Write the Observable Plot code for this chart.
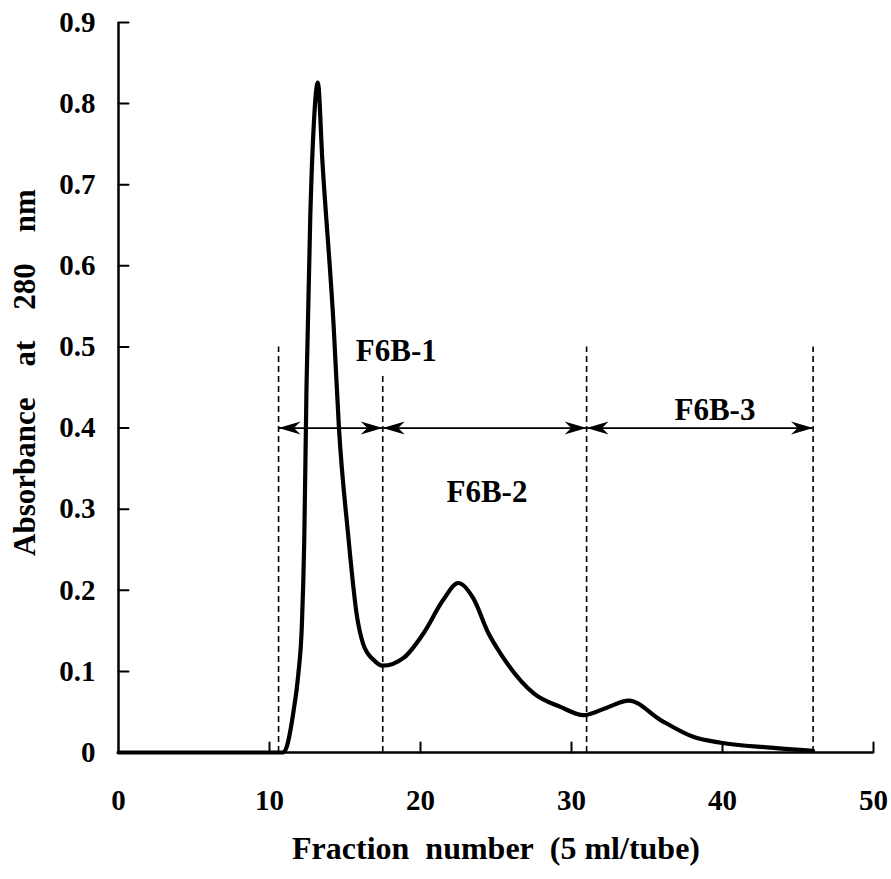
<!DOCTYPE html>
<html><head><meta charset="utf-8">
<script src="https://cdn.jsdelivr.net/npm/d3@7"></script>
<script src="https://cdn.jsdelivr.net/npm/@observablehq/plot@0.6"></script>
<style>body{margin:0;background:#fff}</style>
</head><body><div id="chart"></div>
<script>
// Elution profile
const fraction   = [0, 5, 10, 10.9, 11.1, 11.6, 11.9, 12.15, 12.3, 12.45, 12.7, 12.95, 13.2, 13.5, 14.25, 14.6, 15.2, 15.8, 16.2, 16.9, 17.5, 18.9, 20.2, 21.5, 22.5, 23.5, 24.5, 25.3, 27.5, 29.3, 30.8, 32.3, 33.8, 35.9, 38.1, 39.9, 43.2, 46.0];
const absorbance = [0, 0, 0, 0, 0.005, 0.052, 0.095, 0.16, 0.26, 0.45, 0.66, 0.78, 0.826, 0.73, 0.525, 0.40, 0.27, 0.167, 0.134, 0.114, 0.107, 0.117, 0.147, 0.188, 0.209, 0.19, 0.147, 0.122, 0.073, 0.056, 0.046, 0.055, 0.064, 0.04, 0.019, 0.012, 0.006, 0.002];

// Pooling boundaries (dashed lines)
const cutX   = [10.6, 17.5, 31.0, 46.0];
const cutTop = [0.5, 0.465, 0.5, 0.5];

// Double-headed range arrows
const rangeStart = [10.6, 17.5, 31.0];
const rangeEnd   = [17.5, 31.0, 46.0];
const rangeY     = 0.4;

// Fraction labels
const poolNames = ["F6B-1", "F6B-2", "F6B-3"];
const poolX     = [18.4, 24.4, 39.5];
const poolY     = [0.495, 0.321, 0.422];

// Axis ticks
const xTicks = [0, 10, 20, 30, 40, 50];
const yTicks = [0, 0.1, 0.2, 0.3, 0.4, 0.5, 0.6, 0.7, 0.8, 0.9];
const xTitle = "Fraction\u00a0 number\u00a0 (5 ml/tube)";
const yTitle = "Absorbance\u00a0\u00a0\u00a0 at\u00a0\u00a0\u00a0 280\u00a0\u00a0\u00a0 nm";

const profile = fraction.map((f, i) => ({f, a: absorbance[i]}));
const cuts = cutX.map((x, i) => ({x, top: cutTop[i]}));
const ranges = rangeStart.map((s, i) => ({s, e: rangeEnd[i], y: rangeY}));
const pools = poolNames.map((n, i) => ({n, x: poolX[i], y: poolY[i]}));

const tickShape = {draw(ctx, l) { ctx.moveTo(0, 0); ctx.lineTo(0, -l); }};
const headShape = {draw(ctx, l) {
  ctx.moveTo(0, -l); ctx.lineTo(6.5, 0); ctx.lineTo(0, -l * 0.3); ctx.lineTo(-6.5, 0); ctx.closePath();
}};

const font = "'Liberation Serif', 'Times New Roman', serif";

const chart = Plot.plot({
  width: 891, height: 879,
  marginLeft: 118, marginRight: 18, marginTop: 22, marginBottom: 127,
  style: {fontFamily: font, fontWeight: "bold", fontSize: "28px", background: "white", color: "black"},
  x: {domain: [0, 50]},
  y: {domain: [0, 0.9]},
  marks: [
    Plot.axisX(xTicks, {tickSize: 0, tickPadding: 37, fontSize: 29, fontWeight: "bold", tickFormat: d => String(d), label: null}),
    Plot.axisY(yTicks, {tickSize: 0, tickPadding: 23, fontSize: 29, fontWeight: "bold", tickFormat: d => d === 0 ? "0" : d.toFixed(1), label: null}),
    Plot.vector(xTicks.slice(1), {x: d => d, y: 0, length: 10, rotate: 0, anchor: "start", shape: tickShape, strokeWidth: 2}),
    Plot.vector(yTicks.slice(1), {x: 0, y: d => d, length: 10, rotate: 90, anchor: "start", shape: tickShape, strokeWidth: 2}),
    Plot.ruleX([0], {strokeWidth: 2.5}),
    Plot.ruleY([0], {strokeWidth: 2.5}),
    Plot.ruleX(cuts, {x: "x", y1: 0, y2: "top", strokeWidth: 1.6, strokeDasharray: "6,4"}),
    Plot.ruleY(ranges, {y: "y", x1: "s", x2: "e", strokeWidth: 1.8}),
    Plot.vector(ranges, {x: "s", y: "y", length: 22, rotate: -90, anchor: "end", shape: headShape, fill: "black", strokeWidth: 1}),
    Plot.vector(ranges, {x: "e", y: "y", length: 22, rotate: 90, anchor: "end", shape: headShape, fill: "black", strokeWidth: 1}),
    Plot.line(profile, {x: "f", y: "a", curve: "monotone-x", strokeWidth: 4.2, strokeLinejoin: "round"}),
    Plot.text(pools, {x: "x", y: "y", text: "n", fontSize: 31, fontWeight: "bold", lineAnchor: "middle"}),
    Plot.text([xTitle], {frameAnchor: "bottom", dy: 96, fontSize: 32, fontWeight: "bold", lineAnchor: "middle"}),
    Plot.text([yTitle], {frameAnchor: "left", dx: -93, dy: -15, rotate: -90, textAnchor: "middle", fontSize: 31, fontWeight: "bold", lineAnchor: "middle"})
  ]
});
document.getElementById("chart").appendChild(chart);
</script>
</body></html>
